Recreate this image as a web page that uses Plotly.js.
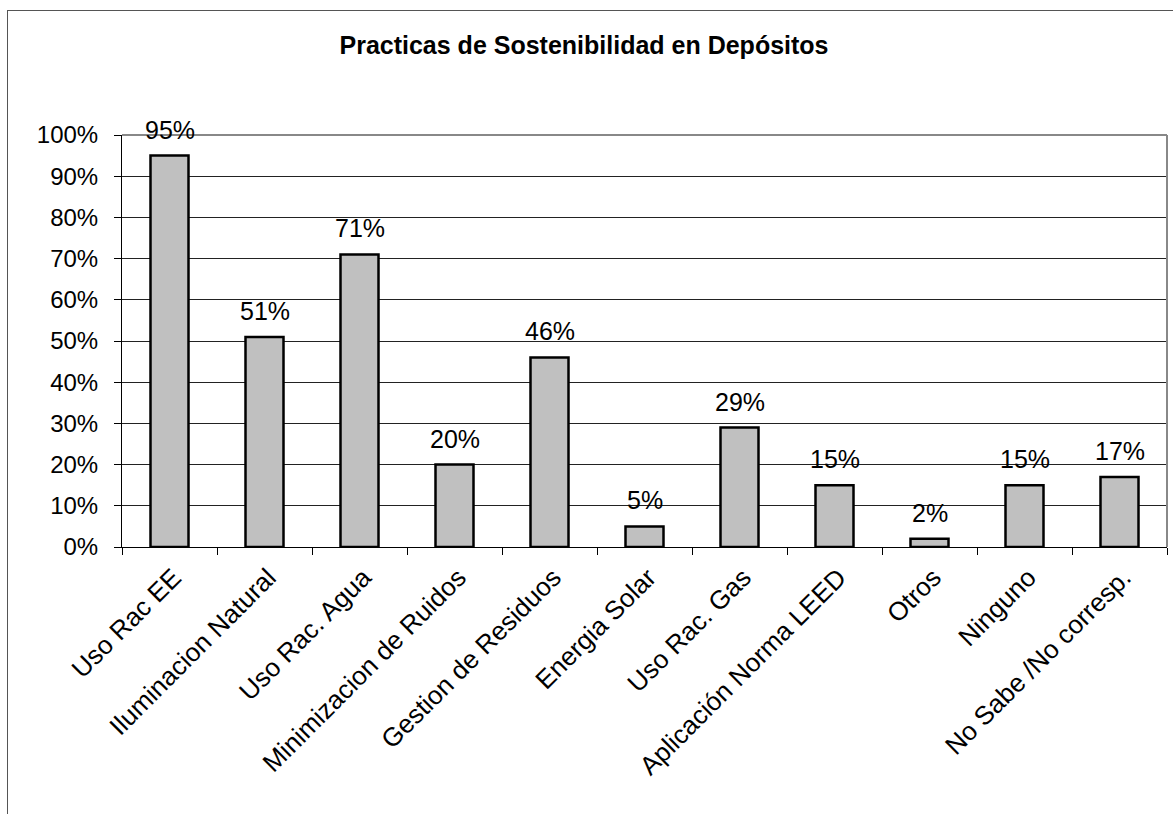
<!DOCTYPE html>
<html>
<head>
<meta charset="utf-8">
<script src="https://cdn.plot.ly/plotly-3.0.1.min.js"></script>
<style>
  html, body { margin: 0; padding: 0; background: #fff; }
  #frame { position: absolute; left: 7px; top: 10px; width: 1180px; height: 900px; border: 1px solid #555; box-sizing: border-box; }
  #chart { position: absolute; left: 0; top: 0; width: 1173px; height: 814px; }
</style>
</head>
<body>
<div id="frame"></div>
<div id="chart"></div>
<script>
const categories = ["Uso Rac EE", "Iluminacion Natural", "Uso Rac. Agua", "Minimizacion de Ruidos", "Gestion de Residuos", "Energia Solar", "Uso Rac. Gas", "Aplicación Norma LEED", "Otros", "Ninguno", "No Sabe /No corresp."];
const values = [0.95, 0.51, 0.71, 0.20, 0.46, 0.05, 0.29, 0.15, 0.02, 0.15, 0.17];
const labels = ["95%", "51%", "71%", "20%", "46%", "5%", "29%", "15%", "2%", "15%", "17%"];
const titleText = "Practicas de Sostenibilidad en Depósitos";

const FONT = "Liberation Sans, Arial, sans-serif";

const trace = {
  type: "bar",
  x: categories,
  y: values,
  width: 0.4,
  marker: { color: "#c0c0c0", line: { color: "#000", width: 2.5 } },
  hoverinfo: "skip"
};

const annotations = categories.map((c, i) => ({
  x: c, y: values[i], xref: "x", yref: "y",
  text: labels[i], showarrow: false,
  yanchor: "bottom", yshift: 10,
  font: { family: FONT, size: 25, color: "#000" }
}));

const layout = {
  width: 1173, height: 814,
  margin: { l: 122, r: 6, t: 135, b: 267, pad: 0 },
  paper_bgcolor: "rgba(0,0,0,0)",
  plot_bgcolor: "#fff",
  showlegend: false,
  bargap: 0.6,
  font: { family: FONT, size: 24, color: "#000" },
  title: {
    text: "<b>" + titleText + "</b>",
    font: { family: FONT, size: 25, color: "#000" },
    x: 584 / 1173, xref: "container", xanchor: "center",
    y: 1 - 45 / 814, yref: "container", yanchor: "middle"
  },
  xaxis: {
    type: "category",
    tickangle: -45,
    ticks: "outside", ticklen: 7, tickcolor: "#000", tickwidth: 1,
    tickson: "boundaries",
    ticklabelstandoff: 4,
    ticklabelshift: 4,
    showline: true, linecolor: "#000", linewidth: 1,
    showgrid: false, zeroline: false,
    tickfont: { family: FONT, size: 26, color: "#000" },
    automargin: false
  },
  yaxis: {
    range: [0, 1],
    dtick: 0.1,
    tickformat: ".0%",
    ticks: "outside", ticklen: 7, tickcolor: "#000", tickwidth: 1,
    ticklabelstandoff: 11,
    showline: true, linecolor: "#000", linewidth: 1,
    showgrid: true, gridcolor: "#222", gridwidth: 1,
    zeroline: false,
    tickfont: { family: FONT, size: 24, color: "#000" },
    automargin: false
  },
  shapes: [
    { type: "line", xref: "paper", yref: "paper", x0: 0, x1: 1, y0: 1, y1: 1, line: { color: "#888", width: 2 } },
    { type: "line", xref: "paper", yref: "paper", x0: 1, x1: 1, y0: 0, y1: 1, line: { color: "#888", width: 2 } }
  ],
  annotations: annotations
};

Plotly.newPlot("chart", [trace], layout, { displayModeBar: false, staticPlot: true });
</script>
</body>
</html>
